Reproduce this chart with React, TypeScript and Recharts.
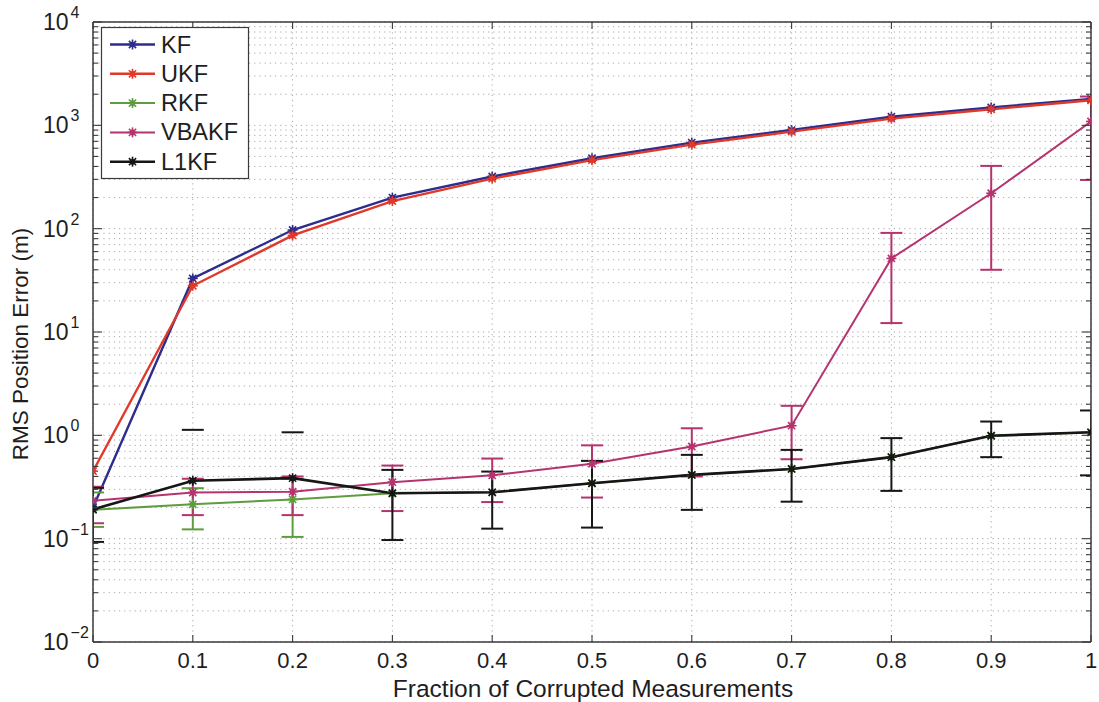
import React from 'react';
import { LineChart, Line, XAxis, YAxis, CartesianGrid, ReferenceLine } from 'recharts';

// ---------- data ----------
const fractions = [0, 0.1, 0.2, 0.3, 0.4, 0.5, 0.6, 0.7, 0.8, 0.9, 1];

const kfValues = [0.2, 33, 97, 200, 320, 480, 680, 900, 1210, 1490, 1800];
const ukfValues = [0.45, 28, 86, 185, 305, 460, 650, 870, 1160, 1430, 1750];
const rkfValues = [0.19, 0.215, 0.24, 0.275, 0.281, 0.344, 0.414, 0.473, 0.615, 0.99, 1.07];
const vbakfValues = [0.233, 0.28, 0.285, 0.352, 0.41, 0.53, 0.78, 1.24, 51.5, 220, 1090];
const l1kfValues = [0.192, 0.364, 0.385, 0.275, 0.281, 0.344, 0.414, 0.473, 0.615, 0.99, 1.07];

const rkfLow = [0.13, 0.123, 0.104, null, null, null, null, null, null, null, null];
const rkfHigh = [0.28, 0.308, 0.38, null, null, null, null, null, null, null, null];
const vbakfLow = [0.141, 0.169, 0.169, 0.185, 0.226, 0.25, 0.4, 0.587, 12.2, 40, 296];
const vbakfHigh = [0.318, 0.38, 0.4, 0.51, 0.596, 0.8, 1.17, 1.93, 91, 405, 1900];
const l1kfLow = [0.093, null, null, 0.097, 0.125, 0.128, 0.19, 0.228, 0.29, 0.615, 0.41];
const l1kfHigh = [0.31, 1.13, 1.07, 0.463, 0.446, 0.566, 0.647, 0.723, 0.94, 1.36, 1.74];

const seriesNames = ['KF', 'UKF', 'RKF', 'VBAKF', 'L1KF'];
const seriesColors = ['#2c2d8c', '#e0382a', '#5e9c3e', '#b5336f', '#161616'];
const seriesWidths = [2.4, 2.4, 2, 2, 2.6];

const xTicks = [0, 0.1, 0.2, 0.3, 0.4, 0.5, 0.6, 0.7, 0.8, 0.9, 1];
const xTickLabels = ['0', '0.1', '0.2', '0.3', '0.4', '0.5', '0.6', '0.7', '0.8', '0.9', '1'];
const yMajorTicks = [0.01, 0.1, 1, 10, 100, 1000, 10000];
const yExponents = ['\u22122', '\u22121', '0', '1', '2', '3', '4'];
const minorMultipliers = [2, 3, 4, 5, 6, 7, 8, 9];
const yMinorTicks = yMajorTicks
  .slice(0, -1)
  .flatMap((d) => minorMultipliers.map((k) => Number((k * d).toPrecision(3))));
const yAllTicks = [...yMajorTicks, ...yMinorTicks].sort((a, b) => a - b);

const xTitle = 'Fraction of Corrupted Measurements';
const yTitle = 'RMS Position Error (m)';

// ---------- derived ----------
const seriesValues = [kfValues, ukfValues, rkfValues, vbakfValues, l1kfValues];
const data = fractions.map((f, i) => {
  const row: Record<string, number> = { f };
  seriesNames.forEach((n, s) => {
    row[n] = seriesValues[s][i];
  });
  return row;
});

const errorSets: Record<string, { low: (number | null)[]; high: (number | null)[] }> = {
  RKF: { low: rkfLow, high: rkfHigh },
  VBAKF: { low: vbakfLow, high: vbakfHigh },
  L1KF: { low: l1kfLow, high: l1kfHigh },
};

const FONT = '"Liberation Sans", Arial, Helvetica, sans-serif';
const FRAME = '#3a3a3a';
const TEXT = '#1e1e1e';
const CAP = 0.011;

const emptyTick = () => <g />;

const isMajor = (v: number) => yMajorTicks.some((m) => Math.abs(m - v) / m < 1e-6);

const makeYTickMark = (dir: number) => (props: any) => {
  const { x, y, payload } = props;
  const len = isMajor(payload.value) ? 9 : 5;
  return <line x1={x} y1={y} x2={x + dir * len} y2={y} stroke={FRAME} strokeWidth={1.1} />;
};
const leftTickMark = makeYTickMark(1);
const rightTickMark = makeYTickMark(-1);

const XTick = (props: any) => {
  const { x, y, payload, index } = props;
  return (
    <text x={x} y={y + 26} textAnchor="middle" fontSize={22} fontFamily={FONT} fill={TEXT}>
      {xTickLabels[index] ?? String(payload.value)}
    </text>
  );
};

const YTick = (props: any) => {
  const { x, y, index } = props;
  return (
    <text x={x - 50} y={y + 8} fontFamily={FONT} fill={TEXT}>
      <tspan fontSize={23}>10</tspan>
      <tspan fontSize={16} dx={2} dy={-12}>
        {yExponents[index]}
      </tspan>
    </text>
  );
};

const makeStar = (color: string) => (props: any) => {
  const { cx, cy, key } = props;
  if (cx == null || cy == null || isNaN(cx) || isNaN(cy)) return <g key={key} />;
  const r = 5;
  const d = r * 0.72;
  return (
    <g key={key} stroke={color} strokeWidth={1.6}>
      <line x1={cx - r} y1={cy} x2={cx + r} y2={cy} />
      <line x1={cx} y1={cy - r} x2={cx} y2={cy + r} />
      <line x1={cx - d} y1={cy - d} x2={cx + d} y2={cy + d} />
      <line x1={cx - d} y1={cy + d} x2={cx + d} y2={cy - d} />
      <circle cx={cx} cy={cy} r={2.8} fill={color} stroke="none" />
    </g>
  );
};

const renderErrorBars = (name: string, color: string) => {
  const set = errorSets[name];
  if (!set) return [];
  const out: React.ReactNode[] = [];
  fractions.forEach((f, i) => {
    const lo = set.low[i];
    const hi = set.high[i];
    const common = {
      xAxisId: 'x',
      yAxisId: 'y',
      stroke: color,
      strokeWidth: 2,
      ifOverflow: 'hidden' as const,
    };
    if (lo != null && hi != null) {
      out.push(
        <ReferenceLine key={`${name}-v-${i}`} {...common} segment={[{ x: f, y: lo }, { x: f, y: hi }]} />
      );
    }
    if (hi != null) {
      out.push(
        <ReferenceLine key={`${name}-h-${i}`} {...common} segment={[{ x: f - CAP, y: hi }, { x: f + CAP, y: hi }]} />
      );
    }
    if (lo != null) {
      out.push(
        <ReferenceLine key={`${name}-l-${i}`} {...common} segment={[{ x: f - CAP, y: lo }, { x: f + CAP, y: lo }]} />
      );
    }
  });
  return out;
};

const logAxisCommon = {
  type: 'number' as const,
  scale: 'log' as const,
  domain: [0.01, 10000] as [number, number],
  allowDataOverflow: true,
  interval: 0 as const,
};

const xAxisCommon = {
  type: 'number' as const,
  dataKey: 'f',
  domain: [0, 1] as [number, number],
  allowDataOverflow: true,
  interval: 0 as const,
  ticks: xTicks,
};

export default function App() {
  const legendRows = seriesNames.map((n, i) => ({ name: n, color: seriesColors[i], width: seriesWidths[i] }));
  return (
    <div style={{ position: 'absolute', left: 0, top: 0, width: 1099, height: 702, background: '#fff' }}>
      <LineChart
        width={1099}
        height={702}
        data={data}
        margin={{ top: 22, right: 8, left: 33, bottom: 30 }}
      >
        <CartesianGrid
          xAxisId="x"
          yAxisId="y"
          horizontalValues={yAllTicks}
          verticalValues={xTicks}
          stroke="#a8a8a8"
          strokeDasharray="1.2 4"
          strokeWidth={1}
        />
        <XAxis
          xAxisId="x"
          {...xAxisCommon}
          orientation="bottom"
          height={30}
          tickSize={0}
          tickMargin={0}
          tickLine={false}
          axisLine={{ stroke: FRAME, strokeWidth: 1.5 }}
          tick={XTick}
        />
        <XAxis
          xAxisId="xb"
          {...xAxisCommon}
          orientation="bottom"
          mirror
          tickSize={7}
          axisLine={false}
          tickLine={{ stroke: FRAME, strokeWidth: 1.1 }}
          tick={emptyTick}
        />
        <XAxis
          xAxisId="xt"
          {...xAxisCommon}
          orientation="top"
          mirror
          tickSize={7}
          axisLine={{ stroke: FRAME, strokeWidth: 1.5 }}
          tickLine={{ stroke: FRAME, strokeWidth: 1.1 }}
          tick={emptyTick}
        />
        <YAxis
          yAxisId="y"
          {...logAxisCommon}
          ticks={yMajorTicks}
          width={60}
          tickSize={0}
          tickMargin={0}
          tickLine={false}
          axisLine={{ stroke: FRAME, strokeWidth: 1.5 }}
          tick={YTick}
        />
        <YAxis
          yAxisId="yl"
          {...logAxisCommon}
          ticks={yAllTicks}
          orientation="left"
          mirror
          tickSize={0}
          tickMargin={0}
          tickLine={false}
          axisLine={false}
          tick={leftTickMark}
        />
        <YAxis
          yAxisId="yr"
          {...logAxisCommon}
          ticks={yAllTicks}
          orientation="right"
          mirror
          tickSize={0}
          tickMargin={0}
          tickLine={false}
          axisLine={{ stroke: FRAME, strokeWidth: 1.5 }}
          tick={rightTickMark}
        />
        {seriesNames.flatMap((n, i) => [
          ...renderErrorBars(n, seriesColors[i]),
          <Line
            key={`line-${n}`}
            xAxisId="x"
            yAxisId="y"
            type="linear"
            dataKey={n}
            stroke={seriesColors[i]}
            strokeWidth={seriesWidths[i]}
            dot={makeStar(seriesColors[i])}
            activeDot={false}
            isAnimationActive={false}
          />,
        ])}
      </LineChart>

      <svg
        width={1099}
        height={702}
        style={{ position: 'absolute', left: 0, top: 0, pointerEvents: 'none' }}
        fontFamily={FONT}
      >
        <rect x={101.5} y={27.5} width={147} height={151} fill="#fff" stroke={FRAME} strokeWidth={1.2} />
        {legendRows.map((r, i) => {
          const cy = 44.5 + i * 29.3;
          return (
            <g key={r.name}>
              <line x1={110} y1={cy} x2={155} y2={cy} stroke={r.color} strokeWidth={r.width} />
              {makeStar(r.color)({ cx: 132.5, cy, key: r.name })}
              <text x={161} y={cy + 8} fontSize={23.5} fill={TEXT}>
                {r.name}
              </text>
            </g>
          );
        })}
        <text x={593} y={697} textAnchor="middle" fontSize={24.5} fill={TEXT}>
          {xTitle}
        </text>
        <text
          x={0}
          y={0}
          transform="translate(28 344) rotate(-90)"
          textAnchor="middle"
          fontSize={22.5}
          fill={TEXT}
        >
          {yTitle}
        </text>
      </svg>
    </div>
  );
}
